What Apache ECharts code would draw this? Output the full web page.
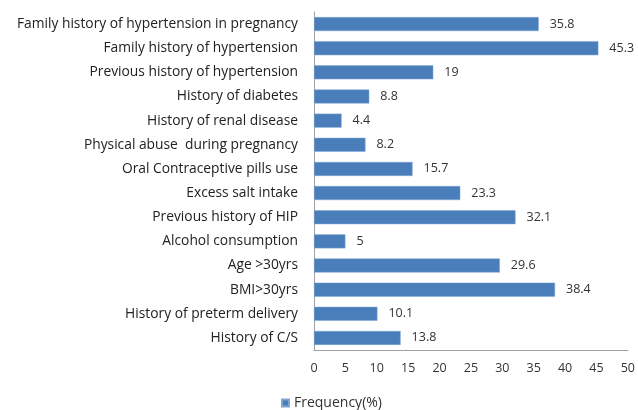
<!DOCTYPE html>
<html><head><meta charset="utf-8">
<script src="https://cdn.jsdelivr.net/npm/echarts@6/dist/echarts.min.js"></script>
<style>html,body{margin:0;padding:0;background:#fff}#c{width:638px;height:410px}</style>
</head><body><div id="c"></div>
<script>
const categories = [
  "Family history of hypertension in pregnancy",
  "Family history of hypertension",
  "Previous history of hypertension",
  "History of diabetes",
  "History of renal disease",
  "Physical abuse  during pregnancy",
  "Oral Contraceptive pills use",
  "Excess salt intake",
  "Previous history of HIP",
  "Alcohol consumption",
  "Age >30yrs",
  "BMI>30yrs",
  "History of preterm delivery",
  "History of C/S"
];
const frequency = [35.8, 45.3, 19, 8.8, 4.4, 8.2, 15.7, 23.3, 32.1, 5, 29.6, 38.4, 10.1, 13.8];
const seriesName = "Frequency(%)";
const FONT = "Open Sans";
const chart = echarts.init(document.getElementById('c'), null, {renderer: 'canvas'});
chart.setOption({
  animation: false,
  textStyle: {fontFamily: FONT},
  grid: {left: 314, right: 8, top: 12, bottom: 60, containLabel: false},
  legend: {
    data: [seriesName], left: 281, top: 395, padding: 0, itemWidth: 7, itemHeight: 7, itemGap: 5,
    icon: 'rect', textStyle: {fontFamily: FONT, fontSize: 14, color: '#333', lineHeight: 16}
  },
  xAxis: {
    type: 'value', min: 0, max: 50, interval: 5,
    axisLine: {show: true, lineStyle: {color: '#a0a0a0'}},
    axisTick: {show: false},
    splitLine: {show: false},
    axisLabel: {fontFamily: FONT, fontSize: 12.5, color: '#333', margin: 12}
  },
  yAxis: {
    type: 'category', data: categories, inverse: true,
    axisLine: {show: true, lineStyle: {color: '#a0a0a0'}},
    axisTick: {show: false},
    axisLabel: {fontFamily: FONT, fontSize: 13.8, color: '#222', margin: 16}
  },
  series: [{
    name: seriesName, type: 'bar', data: frequency,
    barCategoryGap: '42%',
    itemStyle: {color: '#4a7ebb', borderColor: '#7fa6d6', borderWidth: 0.5},
    label: {show: true, position: 'right', distance: 11, fontFamily: FONT, fontSize: 12.5, color: '#333'}
  }]
});
</script></body></html>
